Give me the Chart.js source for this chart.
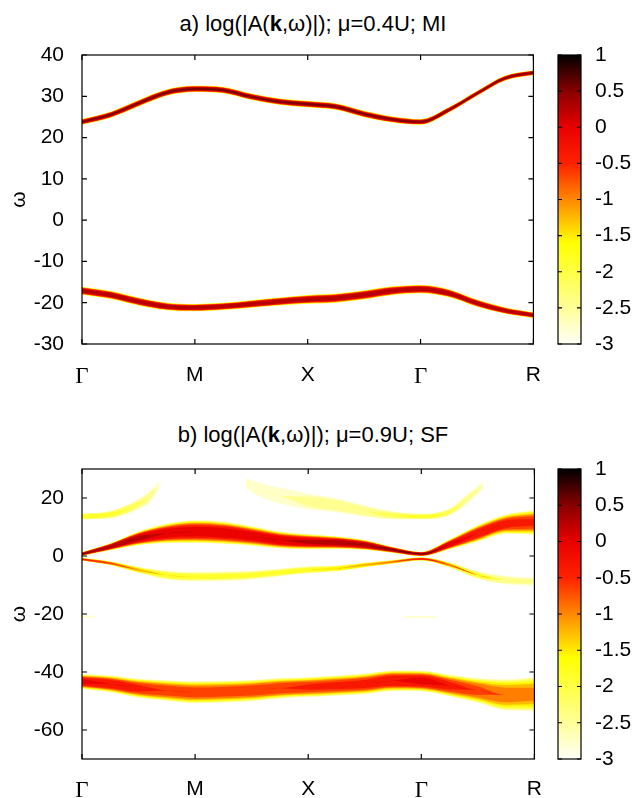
<!doctype html>
<html>

<head>
  <title>Spectral function</title>
  <script src="https://cdn.jsdelivr.net/npm/chart.js@4.4.1/dist/chart.umd.min.js"></script>
  <style>
    body { margin: 0; overflow: hidden; background: #fff; }
    canvas { position: absolute; }
    .ttl {
      position: absolute; left: 0; width: 626px; text-align: center;
      font: 22px "Liberation Sans", Arial, sans-serif; line-height: 26px; color: #000;
    }
  </style>
</head>

<body>
<div class="ttl" style="top:11px">a) log(|A(<b>k</b>,ω)|); μ=0.4U; MI</div>
<div class="ttl" style="top:422px">b) log(|A(<b>k</b>,ω)|); μ=0.9U; SF</div>
<canvas id="chartA" width="560" height="400" style="left:0;top:0"></canvas>
<canvas id="barA" width="96" height="400" style="left:540px;top:0"></canvas>
<canvas id="chartB" width="560" height="406" style="left:0;top:392px"></canvas>
<canvas id="barB" width="96" height="406" style="left:540px;top:392px"></canvas>
<script>
  // k path: Γ - M - X - Γ - R
  var kTicks = [0, 1, 2, 3, 4];
  var kLabels = ['Γ', 'M', 'X', 'Γ', 'R'];
  var K = [0, 0.25, 0.5, 0.75, 1, 1.25, 1.5, 1.75, 2, 2.25, 2.5, 2.75, 3, 3.25, 3.5, 3.75, 4];

  var yTicksA = [-30, -20, -10, 0, 10, 20, 30, 40];
  var yTicksB = [-60, -40, -20, 0, 20];
  var cbTicks = [-3, -2.5, -2, -1.5, -1, -0.5, 0, 0.5, 1];

  // panel a: band centre (omega), half width, peak log intensity
  var aUpW  = [23.8, 25.5, 28.3, 30.9, 31.8, 31.5, 29.9, 28.7, 28.1, 27.5, 25.7, 24.4, 23.8, 26.7, 30.7, 34.4, 35.7];
  var aUpHW = [0.7, 0.75, 0.8, 0.8, 0.8, 0.8, 0.8, 0.8, 0.8, 0.8, 0.8, 0.75, 0.7, 0.65, 0.6, 0.6, 0.6];
  var aUpPk = [0.45, 0.45, 0.45, 0.45, 0.45, 0.45, 0.45, 0.45, 0.45, 0.45, 0.45, 0.45, 0.45, 0.45, 0.45, 0.45, 0.45];

  var aLoW  = [-17.1, -18.1, -19.7, -20.9, -21.2, -20.9, -20.3, -19.7, -19.2, -18.9, -18.1, -17.1, -16.7, -17.7, -20.1, -21.9, -23.0];
  var aLoHW = [1.0, 1.0, 1.0, 0.95, 0.9, 0.9, 0.95, 1.0, 1.1, 1.15, 1.15, 1.1, 1.05, 1.0, 0.9, 0.8, 0.7];
  var aLoPk = [0.4, 0.4, 0.4, 0.4, 0.4, 0.4, 0.4, 0.4, 0.4, 0.4, 0.4, 0.4, 0.4, 0.4, 0.4, 0.4, 0.4];

  // panel b
  var bTop1K  = [0, 0.25, 0.45, 0.6, 0.68];
  var bTop1W  = [13.6, 14.3, 17, 20.5, 24.5];
  var bTop1HW = [1.1, 1.3, 1.7, 2.0, 1.6];
  var bTop1Pk = [-1.8, -1.9, -2.1, -2.4, -2.8];

  var bTop2K  = [1.45, 1.6, 1.75, 2, 2.25, 2.5, 2.75, 3, 3.25, 3.4, 3.55];
  var bTop2W  = [25, 22.5, 20.8, 18.8, 17.5, 15.5, 14, 13.6, 15.2, 19.5, 24.5];
  var bTop2HW = [2.5, 2.8, 3, 2.9, 2.6, 2.0, 1.4, 1.0, 1.2, 1.6, 1.6];
  var bTop2Pk = [-2.85, -2.7, -2.6, -2.5, -2.4, -2.3, -2.1, -1.9, -2.0, -2.3, -2.75];

  var bMainW  = [0.7, 3.2, 6.1, 7.8, 8.4, 8.0, 6.9, 5.5, 4.9, 4.6, 3.8, 2.1, 0.7, 4.0, 7.8, 11.0, 11.6];
  var bMainHW = [0.6, 1.2, 2.4, 3.4, 4.0, 3.9, 3.4, 2.9, 2.6, 2.2, 1.7, 1.0, 0.7, 1.7, 2.9, 3.4, 4.3];
  var bMainPk = [0.5, 0.4, 0.2, 0.05, 0.0, 0.0, 0.0, 0.1, 0.15, 0.25, 0.35, 0.45, 0.5, 0.1, -0.2, -0.35, -0.45];

  var bThinW  = [-1.1, -2.5, -4.8, -6.6, -7.1, -7.0, -6.6, -5.7, -4.8, -4.3, -3.1, -2.0, -1.0, -3.1, -6.6, -8.3, -8.9];
  var bThinHW = [0.5, 0.6, 1.0, 1.5, 1.6, 1.6, 1.5, 1.3, 1.2, 1.0, 0.8, 0.6, 0.5, 0.8, 1.3, 1.5, 1.5];
  var bThinPk = [-0.4, -0.6, -1.3, -1.8, -1.9, -1.9, -1.9, -1.8, -1.7, -1.5, -1.2, -0.8, -0.4, -1.0, -1.9, -2.3, -2.5];

  var bStub1K = [0, 0.12];
  var bStub1W = [-20.9, -20.9];
  var bStub1HW = [0.4, 0.3];
  var bStub1Pk = [-2.6, -2.8];

  var bStub2K = [2.85, 3.0, 3.15];
  var bStub2W = [-21, -21, -21];
  var bStub2HW = [0.3, 0.35, 0.3];
  var bStub2Pk = [-2.8, -2.6, -2.8];

  var bLowW  = [-43.3, -44.1, -45.6, -46.4, -47.0, -46.8, -46.4, -45.6, -45.2, -44.7, -44.1, -43.0, -43.1, -44.7, -46.4, -47.9, -47.6];
  var bLowHW = [2.6, 2.9, 3.3, 3.6, 3.85, 3.8, 3.7, 3.55, 3.45, 3.5, 3.6, 3.6, 3.6, 3.8, 4.3, 5.5, 6.0];
  var bLowPk = [-0.1, -0.2, -0.4, -0.55, -0.6, -0.6, -0.55, -0.5, -0.45, -0.4, -0.35, -0.2, -0.1, -0.4, -0.7, -0.9, -1.0];

  // colour map (log scale -3..1)
  var cmapStops = [[-3, '#fffff8'], [-2.5, '#ffff99'], [-2, '#ffff44'], [-1.6, '#ffff00'], [-1, '#ff8800'],
    [-0.5, '#ff2200'], [0, '#e80000'], [0.5, '#880000'], [1, '#000000']];
  var LEVELS = [-2.9, -2.6, -2.3, -2.0, -1.7, -1.4, -1.1, -0.8, -0.5, -0.2, 0.1, 0.4, 0.7];
  var PROFILE = 3;

  function hex(c) {
    return [parseInt(c.substr(1, 2), 16), parseInt(c.substr(3, 2), 16), parseInt(c.substr(5, 2), 16)];
  }
  function cmap(v) {
    if (v <= cmapStops[0][0]) return cmapStops[0][1];
    for (var i = 1; i < cmapStops.length; i++) {
      if (v <= cmapStops[i][0]) {
        var a = cmapStops[i - 1], b = cmapStops[i];
        var t = (v - a[0]) / (b[0] - a[0]);
        var ca = hex(a[1]), cb = hex(b[1]);
        return 'rgb(' + ca.map(function (x, j) { return Math.round(x + (cb[j] - x) * t); }).join(',') + ')';
      }
    }
    return cmapStops[cmapStops.length - 1][1];
  }

  // split a band into nested intensity layers (upper/lower edge pairs)
  function bandLayers(k, w, hw, pk) {
    var out = [];
    LEVELS.forEach(function (l) {
      var d = hw.map(function (h, i) {
        return pk[i] > l ? h * Math.pow((pk[i] - l) / (pk[i] + 3), 1 / PROFILE) : 0;
      });
      if (Math.max.apply(null, d) <= 0) return;
      out.push({
        level: l,
        upper: k.map(function (x, i) { return {x: x, y: w[i] + d[i]}; }),
        lower: k.map(function (x, i) { return {x: x, y: w[i] - d[i]}; })
      });
    });
    return out;
  }

  function buildDatasets(bands) {
    var layers = [];
    bands.forEach(function (b) { layers = layers.concat(bandLayers.apply(null, b)); });
    layers.sort(function (a, b) { return b.level - a.level; });
    var ds = [];
    layers.forEach(function (ly) {
      var common = {borderWidth: 0, pointRadius: 0, cubicInterpolationMode: 'monotone'};
      ds.push(Object.assign({data: ly.upper, fill: '+1', backgroundColor: cmap(ly.level + 0.15)}, common));
      ds.push(Object.assign({data: ly.lower, fill: false}, common));
    });
    return ds;
  }

  var frameTicks = {
    id: 'frameTicks',
    afterDraw: function (chart, args, opts) {
      var ctx = chart.ctx, a = chart.chartArea, L = opts.len;
      ctx.save();
      ctx.strokeStyle = '#000';
      ctx.lineWidth = 1.2;
      ctx.beginPath();
      if (opts.x) {
        var sx = chart.scales.x;
        sx.ticks.forEach(function (t) {
          var px = sx.getPixelForValue(t.value);
          ctx.moveTo(px, a.bottom); ctx.lineTo(px, a.bottom - L);
          ctx.moveTo(px, a.top); ctx.lineTo(px, a.top + L);
        });
      }
      var sy = chart.scales.y;
      sy.ticks.forEach(function (t) {
        var py = sy.getPixelForValue(t.value);
        ctx.moveTo(a.left, py); ctx.lineTo(a.left + L, py);
        ctx.moveTo(a.right, py); ctx.lineTo(a.right - L, py);
      });
      ctx.stroke();
      ctx.strokeRect(a.left, a.top, a.right - a.left, a.bottom - a.top);
      ctx.restore();
    }
  };

  Chart.defaults.font.family = '"Liberation Sans", Arial, sans-serif';
  Chart.defaults.font.size = 21;
  Chart.defaults.color = '#000';

  var noGrid = {display: false, drawTicks: false};

  function panel(id, bands, yMin, yMax, yTicks, top, xH, xPad) {
    return new Chart(document.getElementById(id), {
      type: 'line',
      data: {datasets: buildDatasets(bands)},
      plugins: [frameTicks],
      options: {
        responsive: false,
        animation: false,
        events: [],
        layout: {padding: {left: 0, right: 14, top: top, bottom: 0}},
        plugins: {legend: {display: false}, tooltip: {enabled: false}, frameTicks: {x: true, len: 5}},
        scales: {
          x: {
            type: 'linear', min: 0, max: 4,
            grid: noGrid, border: {display: false},
            afterBuildTicks: function (s) { s.ticks = kTicks.map(function (v) { return {value: v}; }); },
            afterFit: function (s) { s.height = xH; },
            ticks: {
              padding: xPad, maxRotation: 0, autoSkip: false,
              callback: function (v) { return kLabels[kTicks.indexOf(v)]; },
              font: function (c) {
                var isG = c.tick && kLabels[kTicks.indexOf(c.tick.value)] === 'Γ';
                return isG ? {family: '"Liberation Serif", "Times New Roman", serif', size: 23} : {size: 21};
              }
            }
          },
          y: {
            type: 'linear', min: yMin, max: yMax,
            grid: noGrid, border: {display: false},
            afterBuildTicks: function (s) { s.ticks = yTicks.map(function (v) { return {value: v}; }); },
            afterFit: function (s) { s.width = 82; },
            ticks: {padding: 18, callback: function (v) { return String(v); }},
            title: {display: true, text: 'ω', padding: {top: 7, bottom: 0}}
          }
        }
      }
    });
  }

  function colorbar(id, top, bottom) {
    return new Chart(document.getElementById(id), {
      type: 'bar',
      data: {
        labels: [''],
        datasets: [{
          data: [[cbTicks[0], cbTicks[cbTicks.length - 1]]],
          borderWidth: 0, categoryPercentage: 1, barPercentage: 1,
          backgroundColor: function (c) {
            var ch = c.chart, y = ch.scales.y;
            if (!ch.chartArea || !y) return '#fff';
            var g = ch.ctx.createLinearGradient(0, y.getPixelForValue(-3), 0, y.getPixelForValue(1));
            cmapStops.forEach(function (s) { g.addColorStop((s[0] + 3) / 4, s[1]); });
            return g;
          }
        }]
      },
      plugins: [frameTicks],
      options: {
        responsive: false,
        animation: false,
        events: [],
        layout: {padding: {left: 18, right: 0, top: top, bottom: bottom}},
        plugins: {legend: {display: false}, tooltip: {enabled: false}, frameTicks: {x: false, len: 4}},
        scales: {
          x: {display: false},
          y: {
            position: 'right', min: -3, max: 1,
            grid: noGrid, border: {display: false},
            afterBuildTicks: function (s) { s.ticks = cbTicks.map(function (v) { return {value: v}; }); },
            afterFit: function (s) { s.width = 55; },
            ticks: {padding: 14, callback: function (v) { return String(v); }}
          }
        }
      }
    });
  }

  window.onload = function () {
    panel('chartA', [
      [K, aUpW, aUpHW, aUpPk],
      [K, aLoW, aLoHW, aLoPk]
    ], -30, 40, yTicksA, 55, 56, 19);
    colorbar('barA', 55, 56);

    panel('chartB', [
      [bTop1K, bTop1W, bTop1HW, bTop1Pk],
      [bTop2K, bTop2W, bTop2HW, bTop2Pk],
      [K, bMainW, bMainHW, bMainPk],
      [K, bThinW, bThinHW, bThinPk],
      [bStub1K, bStub1W, bStub1HW, bStub1Pk],
      [bStub2K, bStub2W, bStub2HW, bStub2Pk],
      [K, bLowW, bLowHW, bLowPk]
    ], -70, 30, yTicksB, 77, 39, 18);
    colorbar('barB', 77, 39);
  };
</script>
</body>

</html>
